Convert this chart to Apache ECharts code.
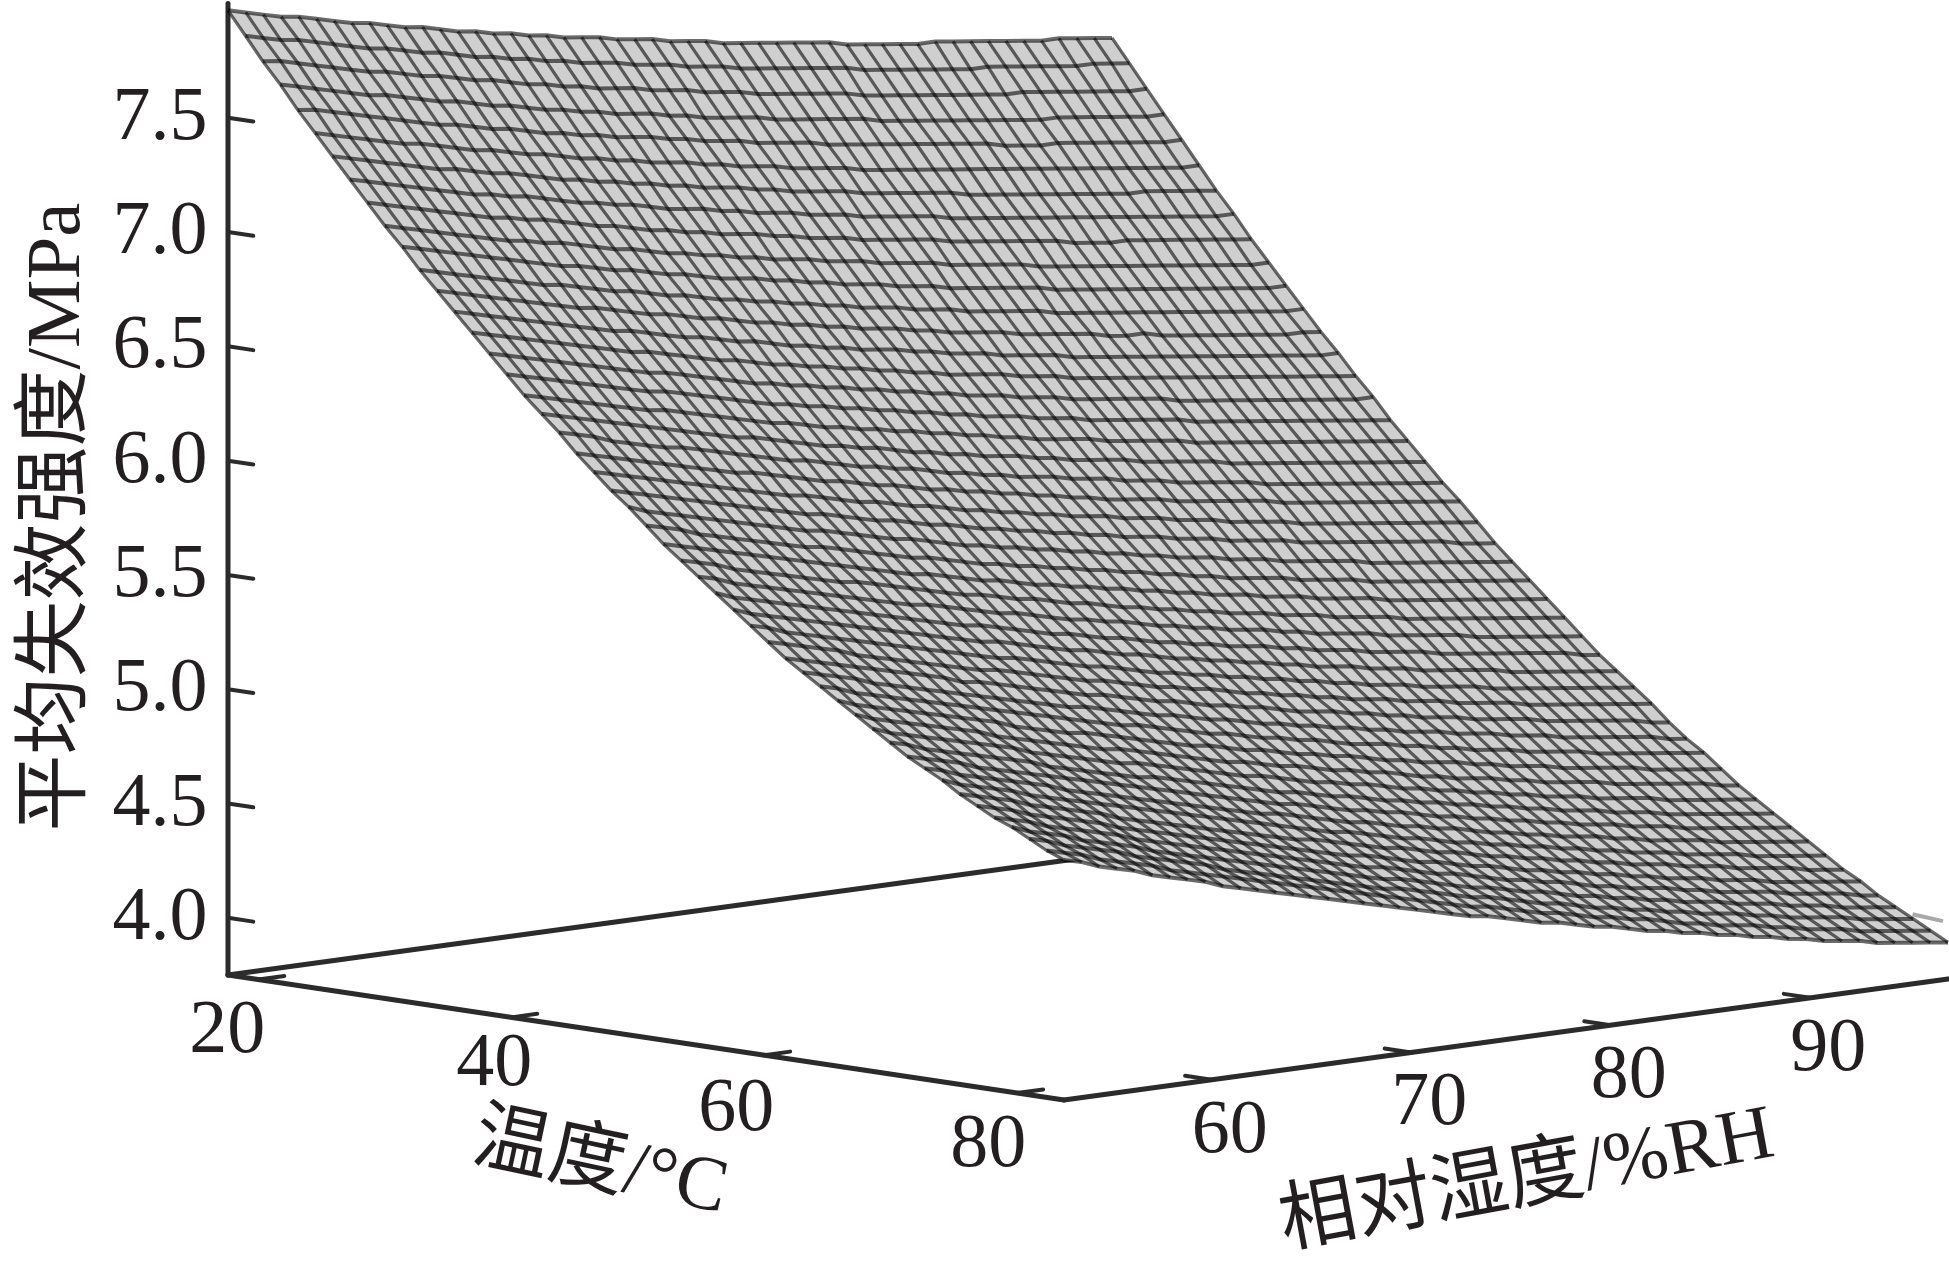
<!DOCTYPE html>
<html>
<head>
<meta charset="utf-8">
<title>平均失效强度</title>
<script src="https://cdn.jsdelivr.net/npm/echarts@6/dist/echarts.min.js"></script>
<style>
html, body { margin: 0; background: #fff; }
#chart { width: 1949px; height: 1276px; }
</style>
</head>
<body>
<div id="chart"></div>
<script>
// 温度网格 (°C)
const tempGrid = [17.6,18.98,20.35,21.73,23.11,24.49,25.86,27.24,28.62,30.0,31.37,32.75,34.13,35.5,36.88,38.26,39.63,41.01,42.39,43.77,45.14,46.52,47.9,49.27,50.65,52.03,53.41,54.78,56.16,57.54,58.91,60.29,61.67,63.04,64.42,65.8,67.18,68.55,69.93,71.31,72.68,74.06,75.44,76.81,78.19,79.57,80.95,82.32,83.7]
// 相对湿度网格 (%RH)
const humidityGrid = [52.6,53.49,54.37,55.26,56.14,57.03,57.92,58.8,59.69,60.57,61.46,62.35,63.23,64.12,65.0,65.89,66.78,67.66,68.55,69.43,70.32,71.21,72.09,72.98,73.86,74.75,75.64,76.52,77.41,78.29,79.18,80.07,80.95,81.84,82.72,83.61,84.5,85.38,86.27,87.15,88.04,88.93,89.81,90.7,91.58,92.47,93.36,94.24,95.13,96.01,96.9]
// 平均失效强度，单位 0.01 MPa。每行一个温度，每列一个湿度
// 四条边从图上读取，内部网格点为目测估计值
const strengthTable = [
[797,795,793,791,790,788,786,784,783,781,779,778,776,774,773,771,770,768,767,765,764,763,761,760,759,757,756,755,753,752,751,750,749,748,747,745,744,743,742,741,741,740,739,738,737,736,735,735,734,733,732],
[787,785,783,782,780,778,776,774,773,771,769,768,766,764,763,761,760,758,757,755,754,753,751,750,749,747,746,745,743,742,741,740,739,738,737,735,734,733,732,731,730,729,729,728,727,726,725,724,724,723,722],
[777,776,774,772,770,768,766,765,763,761,760,758,756,755,753,751,750,748,747,745,744,743,741,740,739,737,736,735,733,732,731,730,729,728,726,725,724,723,722,721,720,719,718,718,717,716,715,714,713,712,712],
[768,766,764,762,760,758,757,755,753,751,750,748,746,745,743,741,740,738,737,735,734,733,731,730,728,727,726,725,723,722,721,720,719,718,716,715,714,713,712,711,710,709,708,707,707,706,705,704,703,702,702],
[758,757,755,753,751,749,747,745,743,742,740,738,737,735,733,732,730,729,727,726,725,723,722,720,719,718,716,715,714,713,711,710,709,708,707,706,705,704,703,702,700,699,698,698,697,696,695,694,693,692,692],
[749,747,745,743,741,739,738,736,734,732,731,729,727,726,724,722,721,719,718,716,715,714,712,711,709,708,707,705,704,703,702,700,699,698,697,696,695,694,693,692,691,690,689,688,687,686,685,684,683,682,682],
[740,738,736,734,732,730,728,727,725,723,722,720,718,716,715,713,712,710,709,707,706,704,703,702,700,699,697,696,695,694,692,691,690,689,688,687,685,684,683,682,681,680,679,678,677,676,676,675,674,673,672],
[731,729,727,725,723,721,719,717,716,714,713,711,709,707,706,704,703,701,699,698,697,695,694,692,691,690,688,687,686,684,683,682,681,680,678,677,676,675,674,673,672,671,670,669,668,667,666,665,664,663,663],
[722,720,718,716,714,712,710,708,707,705,704,702,700,698,697,695,693,692,690,689,687,686,685,683,682,680,679,678,676,675,674,673,672,670,669,668,667,666,665,664,662,661,660,660,659,658,657,656,655,654,653],
[713,711,709,707,705,703,701,699,698,696,695,693,691,689,688,686,684,683,681,680,678,677,675,674,673,671,670,669,667,666,665,664,662,661,660,659,658,656,655,654,653,652,651,650,649,648,647,646,645,644,644],
[705,703,701,699,697,695,693,691,689,687,686,684,682,681,679,677,676,674,672,671,670,668,667,665,664,662,661,660,658,657,656,654,653,652,651,650,649,647,646,645,644,643,642,641,640,639,638,637,636,635,635],
[696,694,692,690,688,686,684,682,681,679,677,675,674,672,670,669,667,665,664,662,661,659,658,656,655,653,652,651,649,648,647,645,644,643,642,641,639,638,637,636,635,634,633,632,631,630,629,628,627,626,626],
[688,686,684,682,680,678,676,674,672,671,669,667,665,664,662,660,659,657,655,654,652,651,649,648,646,645,644,642,641,639,638,637,636,634,633,632,631,630,628,627,627,625,624,623,622,621,620,619,618,618,617],
[680,678,676,674,672,670,668,666,664,662,661,659,657,655,654,652,650,649,647,645,644,642,641,639,638,637,635,634,632,631,630,628,627,626,625,623,622,621,620,619,618,617,616,615,614,613,612,611,610,609,609],
[672,670,668,666,664,662,660,658,656,654,653,651,649,647,645,644,642,640,639,637,636,634,633,631,630,628,627,625,624,623,622,620,619,618,616,615,614,613,612,611,610,609,608,607,606,605,604,603,602,601,600],
[664,662,660,658,656,654,652,650,648,646,645,643,641,639,637,635,634,632,631,629,628,626,625,623,622,620,619,617,616,615,613,612,611,609,608,607,606,605,604,602,601,600,599,598,597,596,595,594,593,592,592],
[656,654,652,650,648,646,644,642,640,639,637,635,633,631,629,627,626,624,623,621,620,618,617,615,614,612,611,609,608,607,605,604,603,601,600,599,598,597,596,594,593,592,591,590,589,588,587,586,585,584,583],
[648,646,644,642,640,638,636,634,633,631,629,627,625,623,621,620,618,616,615,613,612,610,609,607,606,604,603,601,600,598,597,596,595,593,592,591,590,589,587,586,585,584,583,582,581,580,579,578,577,576,575],
[641,639,637,635,633,631,629,627,625,623,621,619,618,616,614,612,610,609,607,606,604,602,601,599,598,596,595,594,592,591,589,588,587,586,584,583,582,581,580,578,577,576,575,574,573,572,571,570,569,568,567],
[634,632,630,627,625,623,621,620,618,616,614,612,610,608,607,605,603,601,600,598,597,595,593,592,590,589,587,586,585,583,582,581,579,578,577,575,574,573,572,571,569,568,567,566,565,564,563,562,561,560,559],
[626,624,622,620,618,616,614,612,610,608,607,605,603,601,599,598,596,594,593,591,589,588,586,585,583,582,580,579,577,576,574,573,572,571,569,568,567,566,565,564,562,561,560,559,558,557,556,555,554,553,552],
[619,617,615,613,611,609,607,605,603,601,599,597,596,594,592,590,589,587,585,584,582,580,579,577,576,574,573,571,570,569,567,566,565,563,562,561,559,558,557,556,554,553,552,551,550,549,548,547,546,545,544],
[612,610,608,606,604,602,600,598,596,594,592,590,589,587,585,583,582,580,578,577,575,573,572,570,569,567,566,564,563,561,560,559,557,556,555,553,552,551,550,548,547,546,545,544,543,542,541,540,538,537,536],
[606,603,601,599,597,595,593,591,589,587,585,584,582,580,578,576,575,573,571,569,568,566,565,563,562,560,559,557,556,554,553,551,550,549,547,546,545,543,542,541,540,539,537,536,535,534,533,532,531,530,529],
[599,597,595,592,590,588,586,584,582,580,579,577,575,573,571,569,568,566,564,562,561,559,558,556,555,553,552,550,549,547,546,544,543,541,540,539,538,536,535,534,533,531,530,529,528,527,526,525,524,523,522],
[592,590,588,586,584,582,580,578,576,574,572,570,568,566,564,563,561,559,557,556,554,552,551,549,548,546,545,543,542,540,539,537,536,535,533,532,531,529,528,527,526,524,523,522,521,520,519,518,517,516,515],
[586,584,582,579,577,575,573,571,569,567,566,564,562,560,558,556,554,553,551,549,548,546,544,543,541,539,538,536,535,533,532,530,529,528,526,525,524,522,521,520,519,517,516,515,514,513,512,511,510,509,508],
[580,578,575,573,571,569,567,565,563,561,559,557,555,554,552,550,548,546,545,543,541,539,538,536,535,533,531,530,528,527,525,524,523,521,520,518,517,516,515,513,512,511,510,509,507,506,505,504,503,502,501],
[574,571,569,567,565,563,561,559,557,555,553,551,549,547,545,544,542,540,538,536,535,533,531,530,528,526,525,523,522,520,519,518,516,515,513,512,511,509,508,507,506,504,503,502,501,500,499,498,497,495,494],
[568,565,563,561,559,557,555,553,551,549,547,545,543,541,539,538,536,534,532,530,529,527,525,524,522,520,519,517,516,514,513,511,510,508,507,506,504,503,502,500,499,498,497,496,494,493,492,491,490,489,488],
[562,560,557,555,553,551,549,547,545,543,541,539,537,535,533,532,530,528,526,524,523,521,519,517,516,514,513,511,510,508,507,505,504,502,501,499,498,497,495,494,493,492,490,489,488,487,486,485,484,483,482],
[556,554,552,550,548,545,543,541,539,537,535,533,531,530,528,526,524,522,520,519,517,515,513,512,510,509,507,505,504,502,501,499,498,496,495,494,492,491,490,488,487,486,485,483,482,481,480,479,478,477,476],
[550,548,546,544,542,540,538,536,534,532,529,528,526,524,522,520,518,516,515,513,511,509,508,506,504,503,501,500,498,496,495,494,492,491,489,488,486,485,484,482,481,480,479,477,476,475,474,473,472,470,469],
[545,543,541,539,536,534,532,530,528,526,524,522,520,518,516,514,513,511,509,507,505,504,502,500,499,497,495,494,492,491,489,488,486,485,483,482,481,479,478,477,475,474,473,471,470,469,468,467,466,464,463],
[540,538,535,533,531,529,527,525,523,521,519,517,515,513,511,509,507,505,504,502,500,498,496,495,493,491,490,488,487,485,483,482,481,479,478,476,475,473,472,471,469,468,467,466,464,463,462,461,460,459,458],
[535,532,530,528,526,524,522,520,518,516,513,511,509,507,506,504,502,500,498,496,494,493,491,489,488,486,484,483,481,480,478,476,475,473,472,471,469,468,466,465,464,462,461,460,459,458,456,455,454,453,452],
[530,527,525,523,521,519,517,515,512,510,508,506,504,502,500,499,497,495,493,491,489,487,486,484,482,481,479,477,476,474,473,471,469,468,466,465,464,462,461,459,458,457,456,454,453,452,451,450,449,447,446],
[525,522,520,518,516,514,512,510,508,505,503,501,499,497,495,494,492,490,488,486,484,482,481,479,477,475,474,472,471,469,467,466,464,463,461,460,458,457,455,454,453,451,450,449,448,446,445,444,443,442,441],
[520,518,515,513,511,509,507,505,503,500,498,496,494,492,490,489,487,485,483,481,479,477,475,474,472,470,469,467,465,464,462,461,459,458,456,455,453,452,450,449,448,446,445,444,442,441,440,439,438,437,436],
[515,513,511,509,506,504,502,500,498,496,494,492,490,488,486,484,482,480,478,476,474,472,471,469,467,465,464,462,461,459,457,456,454,453,451,450,448,447,445,444,443,441,440,439,437,436,435,434,433,432,431],
[511,509,506,504,502,500,498,496,493,491,489,487,485,483,481,479,477,475,473,471,470,468,466,464,462,461,459,457,456,454,453,451,449,448,446,445,443,442,441,439,438,436,435,434,433,431,430,429,428,427,426],
[507,504,502,500,498,495,493,491,489,487,485,483,481,479,477,475,473,471,469,467,465,463,461,460,458,456,454,453,451,449,448,446,445,443,442,440,439,437,436,434,433,432,430,429,428,427,425,424,423,422,421],
[502,500,498,496,493,491,489,487,485,482,480,478,476,474,472,470,468,466,464,462,461,459,457,455,453,452,450,448,447,445,443,442,440,439,437,436,434,433,431,430,429,427,426,425,423,422,421,420,418,417,416],
[498,496,494,491,489,487,485,483,480,478,476,474,472,470,468,466,464,462,460,458,456,454,453,451,449,447,446,444,442,441,439,437,436,434,433,431,430,428,427,425,424,423,421,420,419,417,416,415,414,413,412],
[494,492,490,487,485,483,481,479,476,474,472,470,468,466,464,462,460,458,456,454,452,450,449,447,445,443,442,440,438,436,435,433,432,430,428,427,425,424,423,421,420,418,417,416,415,413,412,411,410,408,407],
[491,488,486,484,481,479,477,475,472,470,468,466,464,462,460,458,456,454,452,450,448,446,445,443,441,439,437,436,434,432,431,429,427,426,424,423,421,420,418,417,416,414,413,412,410,409,408,406,405,404,403],
[487,485,482,480,478,476,473,471,469,467,465,462,460,458,456,454,452,450,448,446,444,443,441,439,437,435,434,432,430,428,427,425,423,422,420,419,417,416,414,413,412,410,409,407,406,405,404,402,401,400,399],
[483,481,479,476,474,472,470,467,465,463,461,459,457,455,453,451,449,447,445,443,441,439,437,435,433,432,430,428,426,425,423,421,420,418,417,415,413,412,410,409,408,406,405,403,402,401,399,398,397,396,395],
[480,478,475,473,471,468,466,464,462,459,457,455,453,451,449,447,445,443,441,439,437,435,433,431,430,428,426,424,423,421,419,418,416,414,413,411,410,408,407,405,404,402,401,399,398,397,395,394,393,392,391]
]
// 刻度
const tempTicks = [20, 40, 60, 80]
const humidityTicks = [60, 70, 80, 90]
const strengthTicks = [4.0, 4.5, 5.0, 5.5, 6.0, 6.5, 7.0, 7.5]
// 右下角那段浅灰色的线头
const strayTemp = [80.9, 83.3]
const strayStrength = [4.01, 4.0]

const TEMP_MIN = 17.6, TEMP_MAX = 83.7
const RH_MIN = 52.6, RH_MAX = 96.9
const Z_FLOOR = 3.75, Z_TOP = 8.0

// 正交投影: 温度/湿度/强度 -> 平面坐标
const project = (temp, rh, z) => {
  const s = (temp - TEMP_MIN) / (TEMP_MAX - TEMP_MIN)
  const r = (rh - RH_MIN) / (RH_MAX - RH_MIN)
  return [
    228 + 836 * s + 884 * r,
    975 + 125 * s - 121 * r - 228.6 * (z - Z_FLOOR)
  ]
}

const AXIS_COLOR = '#2b2b2b'
const FONT = "'Liberation Serif', 'Noto Sans CJK SC', serif"
const MESH_COLOR = 'rgba(0,0,0,0.58)'

const strengthAt = (i, j) => strengthTable[i][j] / 100

const axisLine = (api, a, b, width) => ({
  type: 'line',
  shape: {
    x1: api.coord(project(...a))[0], y1: api.coord(project(...a))[1],
    x2: api.coord(project(...b))[0], y2: api.coord(project(...b))[1]
  },
  style: { stroke: AXIS_COLOR, lineWidth: width, lineCap: 'round' },
  silent: true
})

const label = (text, x, y, size, rotation) => ({
  type: 'text',
  x, y,
  rotation: rotation || 0,
  style: {
    text,
    font: size + 'px ' + FONT,
    fill: '#231f20',
    align: 'center',
    verticalAlign: 'middle',
    textAlign: 'center',
    textVerticalAlign: 'middle'
  },
  silent: true
})

// 坐标轴和刻度线
const renderAxes = (params, api) => {
  const children = [
    axisLine(api, [TEMP_MIN, RH_MIN, Z_FLOOR], [TEMP_MIN, RH_MIN, Z_TOP], 5),
    axisLine(api, [TEMP_MIN, RH_MIN, Z_FLOOR], [TEMP_MIN, RH_MAX, Z_FLOOR], 5),
    axisLine(api, [TEMP_MIN, RH_MIN, Z_FLOOR], [TEMP_MAX, RH_MIN, Z_FLOOR], 5),
    axisLine(api, [TEMP_MAX, RH_MIN, Z_FLOOR], [TEMP_MAX, RH_MAX, Z_FLOOR], 5)
  ]
  tempTicks.forEach(t => children.push(axisLine(api, [t, RH_MIN, Z_FLOOR], [t, RH_MIN + 1.3, Z_FLOOR], 4)))
  humidityTicks.forEach(h => children.push(axisLine(api, [TEMP_MAX, h, Z_FLOOR], [TEMP_MAX - 2.1, h, Z_FLOOR], 4)))
  strengthTicks.forEach(z => children.push(axisLine(api, [TEMP_MIN, RH_MIN, z], [TEMP_MIN + 2, RH_MIN, z], 4)))
  return { type: 'group', children }
}

// 曲面外轮廓填充
const renderSurface = (params, api) => {
  const last = tempGrid.length - 1
  const lastH = humidityGrid.length - 1
  const points = []
  humidityGrid.forEach((h, j) => points.push(api.coord(project(tempGrid[0], h, strengthAt(0, j)))))
  tempGrid.forEach((t, i) => points.push(api.coord(project(t, humidityGrid[lastH], strengthAt(i, lastH)))))
  for (let j = lastH; j >= 0; j--) points.push(api.coord(project(tempGrid[last], humidityGrid[j], strengthAt(last, j))))
  for (let i = last; i >= 0; i--) points.push(api.coord(project(tempGrid[i], humidityGrid[0], strengthAt(i, 0))))
  return { type: 'polygon', shape: { points }, style: { fill: '#cfcfcf' }, silent: true }
}

// 等温网格线
const renderTempLine = (params, api) => {
  const i = params.dataIndex
  const points = humidityGrid.map((h, j) => api.coord(project(tempGrid[i], h, strengthAt(i, j))))
  return { type: 'polyline', shape: { points }, style: { stroke: MESH_COLOR, lineWidth: 4, fill: 'none' }, silent: true }
}

// 等湿度网格线
const renderHumidityLine = (params, api) => {
  const j = params.dataIndex
  const points = tempGrid.map((t, i) => api.coord(project(t, humidityGrid[j], strengthAt(i, j))))
  return { type: 'polyline', shape: { points }, style: { stroke: MESH_COLOR, lineWidth: 3.2, fill: 'none' }, silent: true }
}

const renderStray = (params, api) => ({
  type: 'polyline',
  shape: { points: strayTemp.map((t, k) => api.coord(project(t, RH_MAX, strayStrength[k]))) },
  style: { stroke: '#a8a8a8', lineWidth: 4, fill: 'none' },
  silent: true
})

// 所有文字
const tempLabelOffsets = [[-31, 50], [-17, 45], [-28, 52], [-29, 50]]
const renderLabels = (params, api) => {
  const children = []
  strengthTicks.forEach(z => {
    const p = api.coord(project(TEMP_MIN, RH_MIN, z))
    children.push(label(z.toFixed(1), p[0] - 68, p[1] + 1, 76))
  })
  tempTicks.forEach((t, k) => {
    const p = api.coord(project(t, RH_MIN, Z_FLOOR))
    children.push(label(String(t), p[0] + tempLabelOffsets[k][0], p[1] + tempLabelOffsets[k][1] + 3, 76))
  })
  humidityTicks.forEach(h => {
    const p = api.coord(project(TEMP_MAX, h, Z_FLOOR))
    children.push(label(String(h), p[0] + 18, p[1] + 52, 76))
  })
  children.push(label('平均失效强度/MPa', 59, 517, 77, Math.PI / 2))
  children.push(label('温度/°C', 600, 1166, 77, -0.21))
  children.push(label('相对湿度/%RH', 1527, 1181, 77, 0.183))
  return { type: 'group', children }
}

const customSeries = (renderItem, data, z) => ({
  type: 'custom',
  coordinateSystem: 'cartesian2d',
  renderItem,
  data,
  z,
  clip: false,
  silent: true,
  animation: false,
  progressive: 0
})

const chart = echarts.init(document.getElementById('chart'), null, { renderer: 'canvas' })
chart.setOption({
  backgroundColor: '#fff',
  animation: false,
  grid: { left: 0, right: 0, top: 0, bottom: 0 },
  xAxis: { type: 'value', min: 0, max: 1949, show: false },
  yAxis: { type: 'value', min: 0, max: 1276, inverse: true, show: false },
  series: [
    customSeries(renderAxes, [[0, 0]], 1),
    customSeries(renderStray, [[0, 0]], 2),
    customSeries(renderSurface, [[0, 0]], 3),
    customSeries(renderTempLine, tempGrid.map((t, i) => [i, i]), 4),
    customSeries(renderHumidityLine, humidityGrid.map((h, j) => [j, j]), 4),
    customSeries(renderLabels, [[0, 0]], 5)
  ]
})
</script>
</body>
</html>
